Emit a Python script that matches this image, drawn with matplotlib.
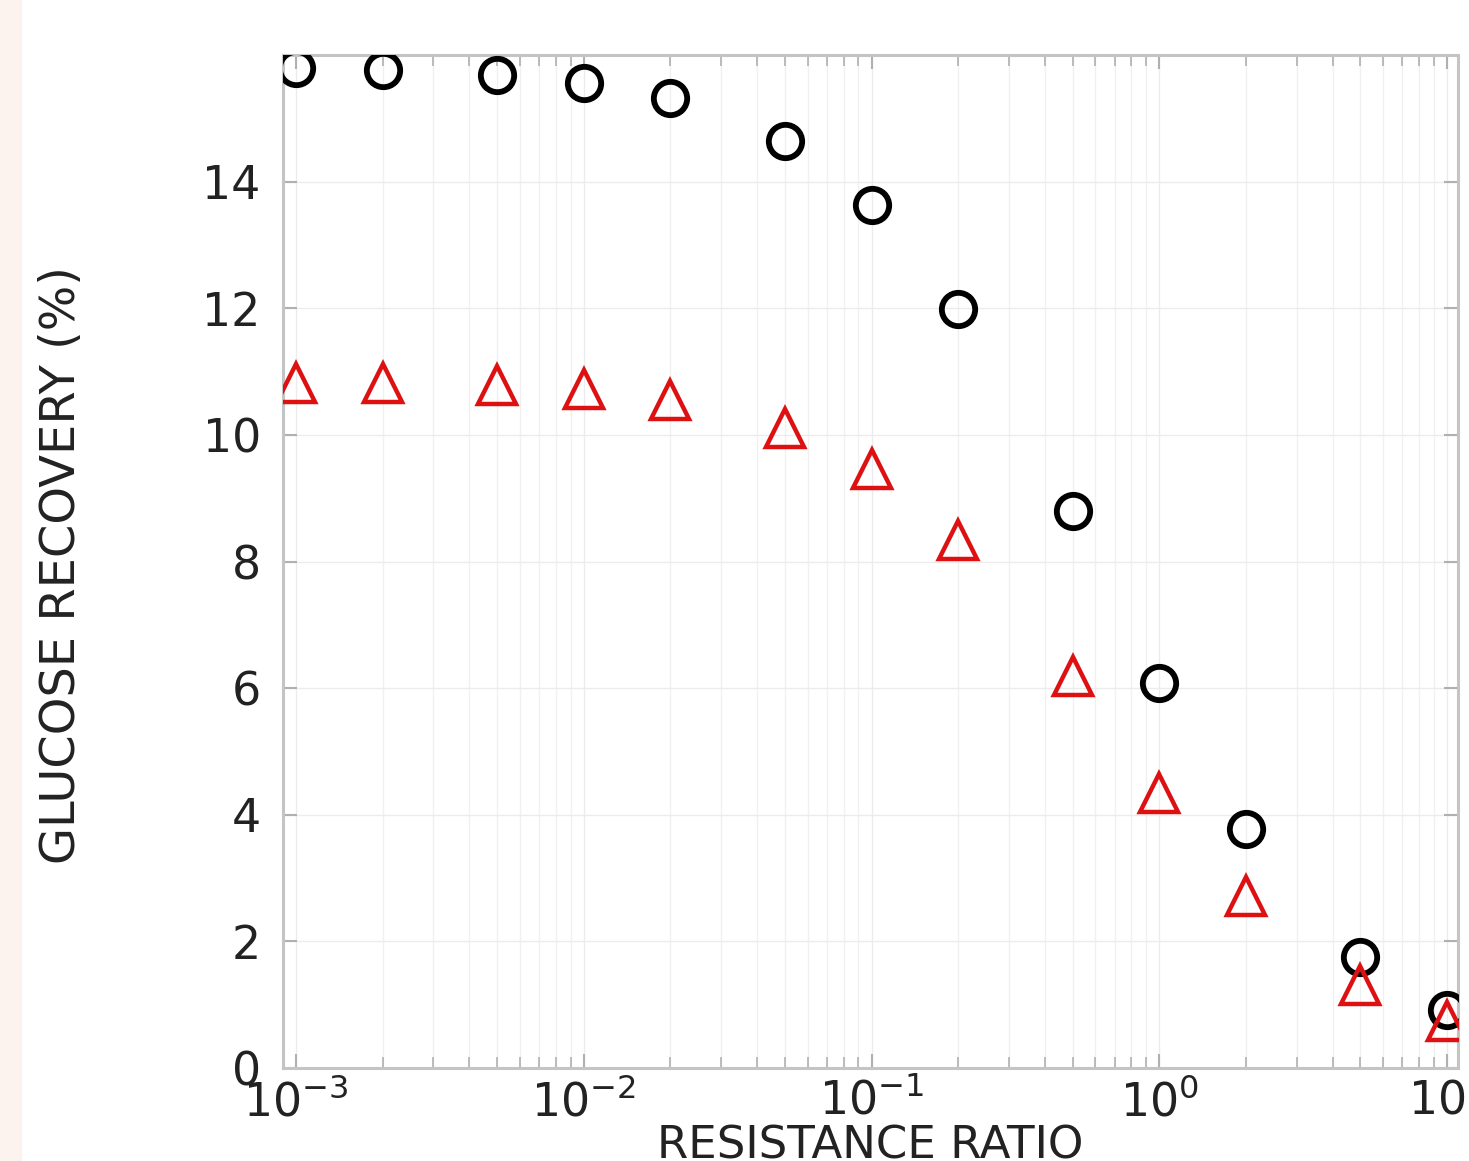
import matplotlib
matplotlib.use("Agg")
import matplotlib.pyplot as plt
from matplotlib.patches import Rectangle
import numpy as np

# Data
ratio = [0.001, 0.002, 0.005, 0.01, 0.02, 0.05, 0.1, 0.2, 0.5, 1, 2, 5, 10]
recovery_circle = [15.80, 15.77, 15.69, 15.56, 15.32, 14.64, 13.63, 11.99, 8.80, 6.08, 3.77, 1.75, 0.92]
recovery_triangle = [10.82, 10.82, 10.79, 10.73, 10.55, 10.11, 9.46, 8.34, 6.19, 4.34, 2.72, 1.31, 0.74]
yticks = [0, 2, 4, 6, 8, 10, 12, 14]
xlabel = "RESISTANCE RATIO"
ylabel = "GLUCOSE RECOVERY (%)"

plt.rcParams['font.family'] = ['DejaVu Sans']
plt.rcParams['mathtext.fontset'] = 'dejavusans'

W, H = 1469, 1161
fig = plt.figure(figsize=(W / 100, H / 100), dpi=100)
fig.patch.set_facecolor('white')
fig.patches.append(Rectangle((0, 0), 22 / W, 1, transform=fig.transFigure,
                             facecolor='#fdf3ee', edgecolor='none', zorder=0))

ax = fig.add_axes([283 / W, 93 / H, (1458 - 283) / W, (1106 - 93) / H])
ax.set_xscale('log')
ax.set_xlim(10 ** -3.045, 10 ** 1.038)
ax.set_ylim(0, 16)
ax.set_yticks(yticks)

ax.grid(True, which='major', axis='both', color='#ececec', lw=1.0)
ax.grid(True, which='minor', axis='x', color='#f0f0f0', lw=1.0)
ax.set_axisbelow(True)

ax.plot(ratio, recovery_circle, linestyle='none', marker='o', markersize=24,
        markerfacecolor='none', markeredgecolor='black', markeredgewidth=4.2, zorder=3)
ax.plot(ratio, recovery_triangle, linestyle='none', marker='^', markersize=27,
        markerfacecolor='none', markeredgecolor='#dd1111', markeredgewidth=3.2, zorder=4)

for s in ax.spines.values():
    s.set_color('#c4c4c4')
    s.set_linewidth(2.2)

ax.tick_params(which='both', direction='in', top=True, right=True, colors='#b0b0b0',
               labelcolor='#222222', labelsize=33)
ax.tick_params(which='major', length=10, width=1.5)
ax.tick_params(which='minor', length=8, width=1.2)
ax.tick_params(axis='y', pad=16)
ax.tick_params(axis='x', pad=8)

ax.set_xlabel(xlabel, fontsize=32.5, color='#222222')
ax.set_ylabel(ylabel, fontsize=34.5, color='#222222')
ax.xaxis.label.set_va('center')
ax.xaxis.set_label_coords(0.5, -0.077)
ax.yaxis.label.set_va('center')
ax.yaxis.set_label_coords((62 - 283) / (1458 - 283), 0.496)

fig.savefig('out.png', dpi=100)
